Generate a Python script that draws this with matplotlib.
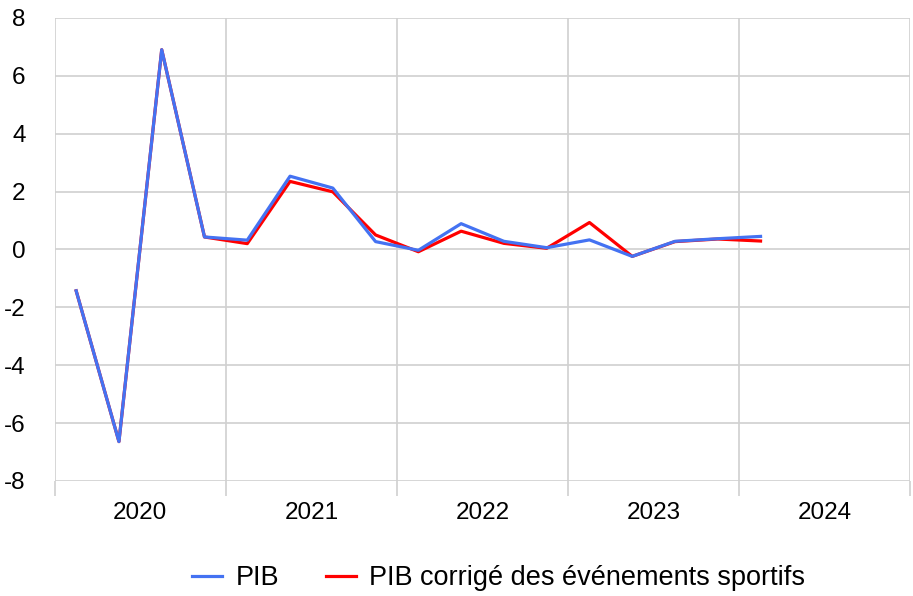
import matplotlib.pyplot as plt
import matplotlib.ticker as mticker

plt.rcParams['font.family'] = ['Liberation Sans', 'DejaVu Sans']
plt.rcParams['axes.unicode_minus'] = False

years = [2020, 2021, 2022, 2023, 2024]
quarters = 17
pib = [-1.43, -6.64, 6.90, 0.43, 0.32, 2.53, 2.12, 0.27, -0.03,
       0.89, 0.28, 0.06, 0.33, -0.24, 0.28, 0.37, 0.45]
pib_corr = [-1.43, -6.64, 6.90, 0.43, 0.20, 2.35, 1.99, 0.50, -0.08,
            0.63, 0.21, 0.04, 0.93, -0.24, 0.27, 0.36, 0.29]

x = [years[0] + (i + 0.5) / 4 for i in range(quarters)]

fig = plt.figure(figsize=(9.13, 5.96), dpi=100)
ax = fig.add_axes([0.060, 0.193, 0.937, 0.777])

ax.plot(x, pib_corr, color='#ff0000', linewidth=2.3, label='PIB corrigé des événements sportifs', zorder=3)
ax.plot(x, pib, color='#4472f2', linewidth=2.3, label='PIB', zorder=4)

ax.set_xlim(years[0], years[-1] + 1)
ax.set_ylim(-8, 8)
ax.yaxis.set_major_locator(mticker.MultipleLocator(2))
ax.yaxis.set_major_formatter(mticker.FuncFormatter(lambda v, p: f'{v:.0f}'))
ax.set_xticks(range(years[0], years[-1] + 2))
ax.set_xticklabels([])
ax.set_xticks([y + 0.5 for y in years], minor=True)
ax.set_xticklabels([str(y) for y in years], minor=True)

ax.tick_params(axis='x', which='major', length=11, color='#d0d0d0', width=1.2)
ax.tick_params(axis='x', which='minor', length=0, labelsize=17.5, pad=15)
ax.tick_params(axis='y', length=0, labelsize=17.5, pad=21)
for lbl in ax.get_yticklabels():
    lbl.set_horizontalalignment('right')

ax.grid(True, which='major', color='#d0d0d0', linewidth=1.2)
for s in ax.spines.values():
    s.set_visible(False)

handles, labels = ax.get_legend_handles_labels()
fig.legend(handles[::-1], labels[::-1], loc='center', bbox_to_anchor=(0.546, 0.030),
           ncol=2, frameon=False, fontsize=19.5, handlelength=1.12, handletextpad=0.5,
           columnspacing=1.72, borderpad=0)

fig.savefig('out.png', dpi=100)
